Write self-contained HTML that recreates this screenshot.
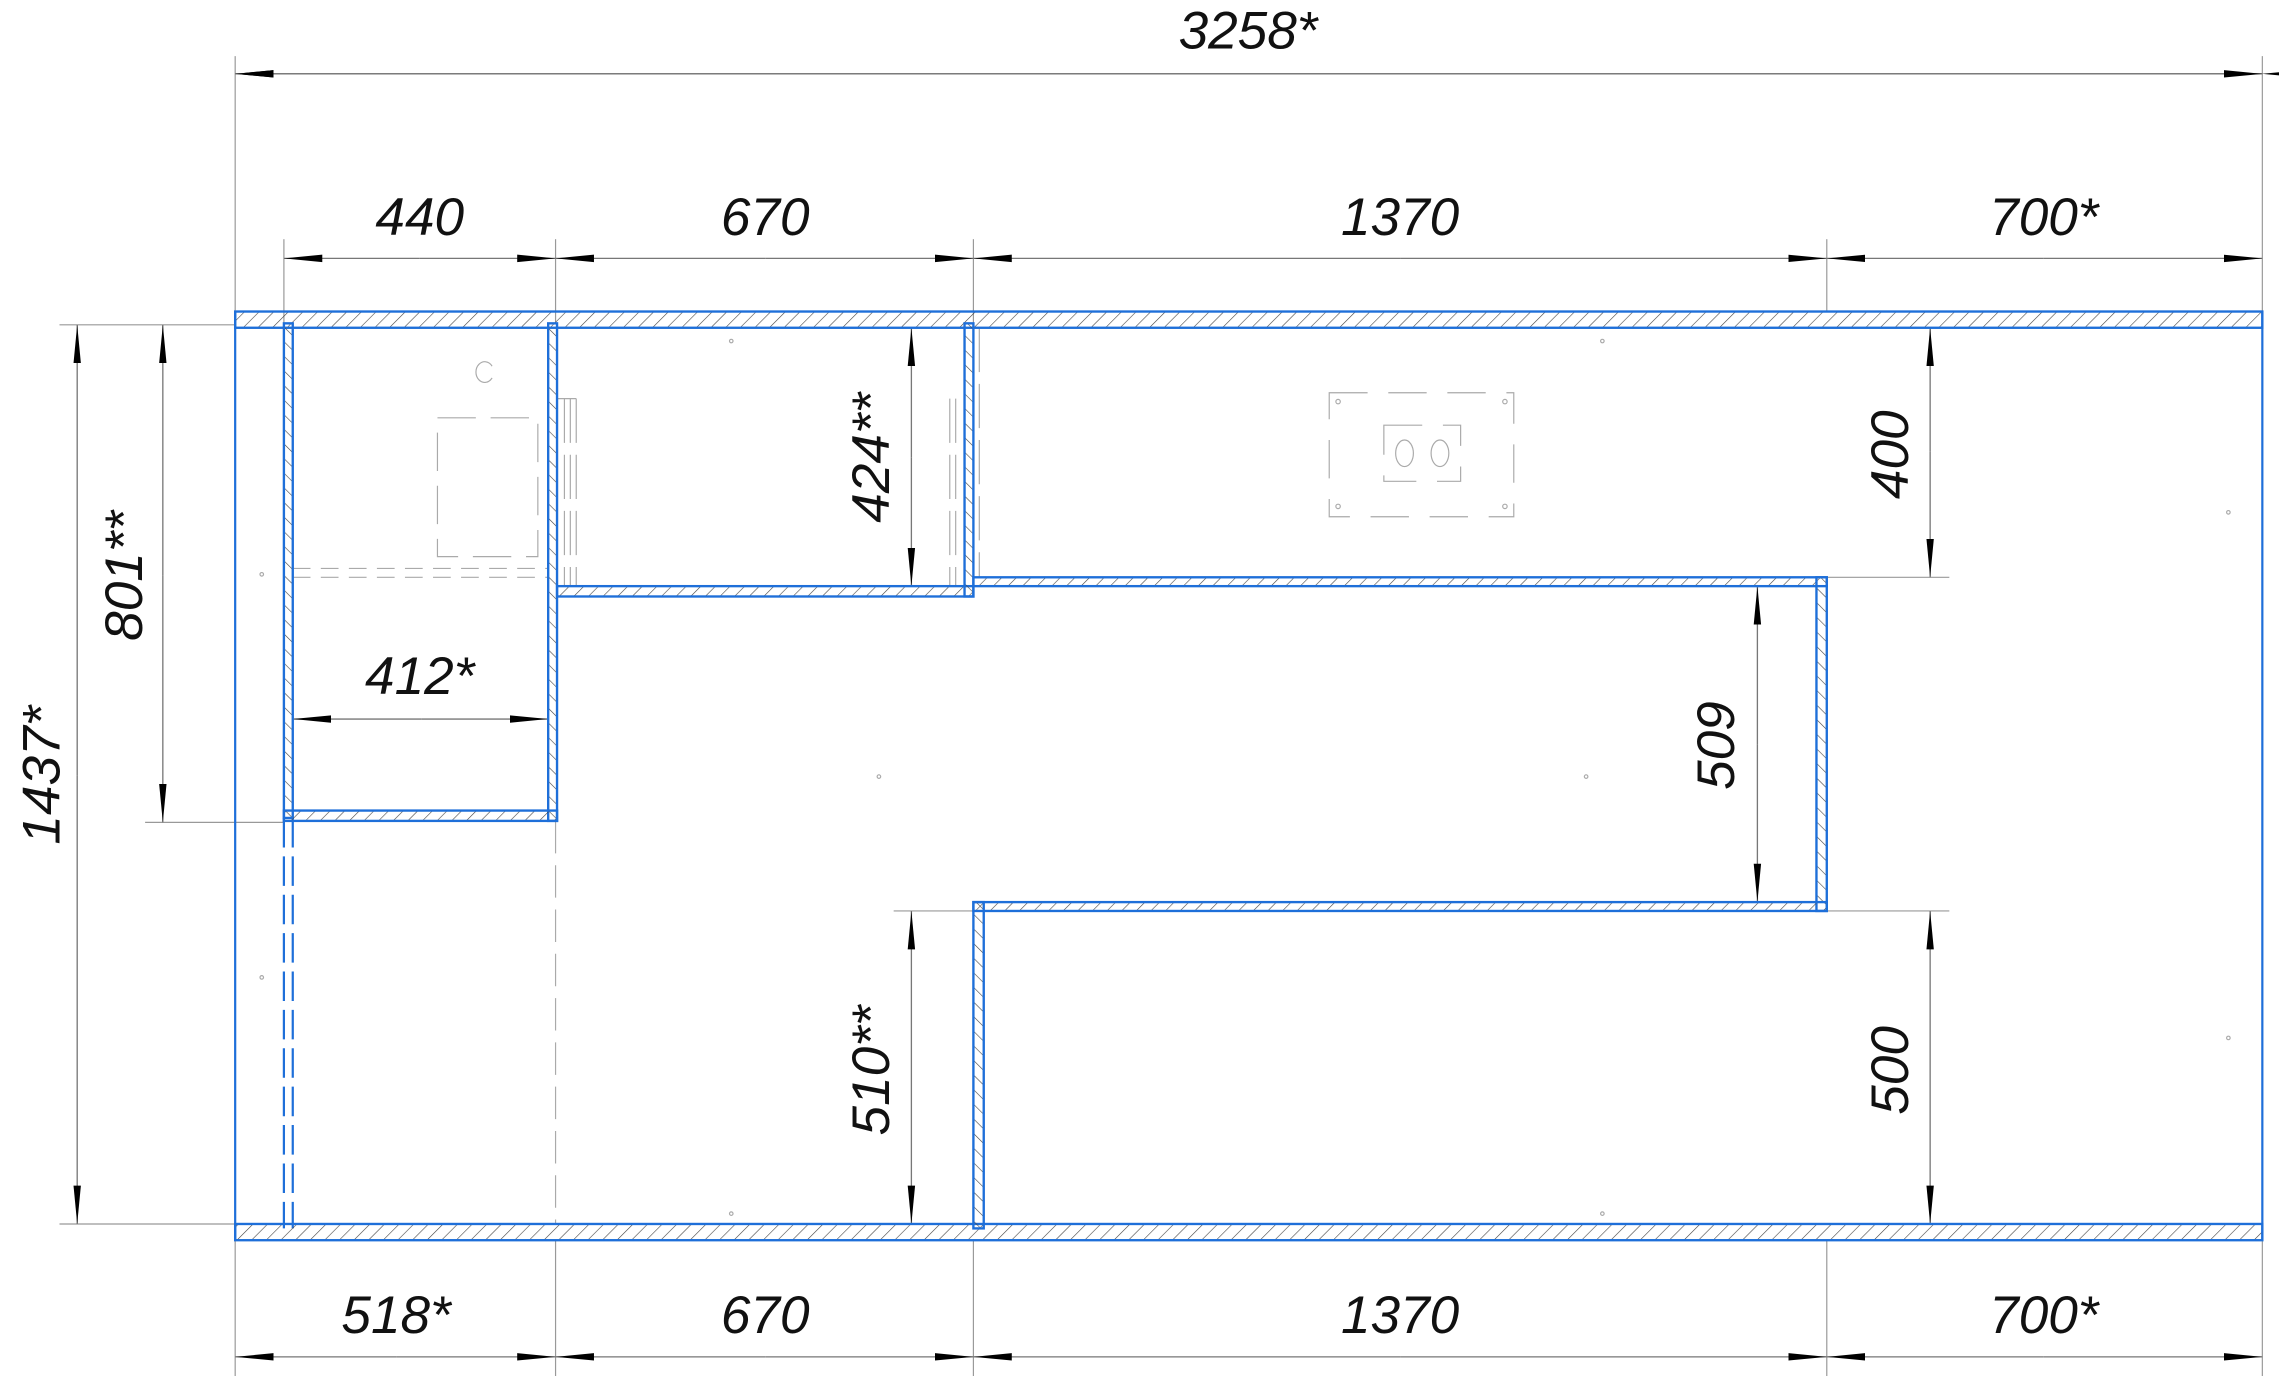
<!DOCTYPE html>
<html><head><meta charset="utf-8"><style>
html,body{margin:0;padding:0;background:#fff;}
svg{display:block}
text{font-family:"Liberation Sans",sans-serif;font-style:italic;font-size:36px;fill:#111;}
</style></head><body>
<svg width="2279" height="1379" viewBox="0 0 1543 934" xmlns="http://www.w3.org/2000/svg">
<defs>
<pattern id="h" patternUnits="userSpaceOnUse" width="7" height="7" patternTransform="rotate(45)">
<line x1="0" y1="0" x2="0" y2="7" stroke="#444" stroke-width="0.8"/>
</pattern>
<pattern id="hv" patternUnits="userSpaceOnUse" width="7" height="7" patternTransform="rotate(-45)">
<line x1="0" y1="0" x2="0" y2="7" stroke="#444" stroke-width="0.8"/>
</pattern>
<marker id="a" viewBox="0 0 26 8" refX="26" refY="4" markerWidth="26" markerHeight="8" markerUnits="userSpaceOnUse" orient="auto">
<path d="M0,1.5 L26,4 L0,6.5 Z" fill="#000"/>
</marker>
</defs>
<!-- extension lines -->
<g stroke="#999" stroke-width="0.8" fill="none">
<line x1="159" y1="38" x2="159" y2="211"/><line x1="1532" y1="38" x2="1532" y2="211"/>
<line x1="192" y1="162" x2="192" y2="219"/><line x1="376" y1="162" x2="376" y2="219"/>
<line x1="659" y1="162" x2="659" y2="219"/><line x1="1237" y1="162" x2="1237" y2="211"/>
<line x1="159" y1="840" x2="159" y2="932"/><line x1="376" y1="840" x2="376" y2="932"/>
<line x1="659" y1="840" x2="659" y2="932"/><line x1="1237" y1="840" x2="1237" y2="932"/><line x1="1532" y1="840" x2="1532" y2="932"/>
<line x1="40" y1="220" x2="159" y2="220"/><line x1="40" y1="829" x2="159" y2="829"/>
<line x1="98" y1="557" x2="192" y2="557"/>
<line x1="1237" y1="391" x2="1320" y2="391"/><line x1="1237" y1="617" x2="1320" y2="617"/>
<line x1="1180" y1="397" x2="1230" y2="397"/><line x1="1180" y1="611" x2="1230" y2="611"/>
<line x1="605" y1="617" x2="659" y2="617"/><line x1="605" y1="829" x2="659" y2="829"/>
<line x1="605" y1="222" x2="653" y2="222"/>
<line x1="1296" y1="829" x2="1320" y2="829"/>
</g>
<!-- dimension lines -->
<g stroke="#777" stroke-width="0.9" marker-start="url(#a)" marker-end="url(#a)">
<line x1="1532" y1="50" x2="159" y2="50" marker-start="url(#a)"/>
</g>
<g stroke="#777" stroke-width="0.9" marker-end="url(#a)">
<line x1="284" y1="175" x2="192" y2="175"/><line x1="284" y1="175" x2="376" y2="175"/>
<line x1="518" y1="175" x2="376" y2="175"/><line x1="518" y1="175" x2="659" y2="175"/>
<line x1="948" y1="175" x2="659" y2="175"/><line x1="948" y1="175" x2="1237" y2="175"/>
<line x1="1384" y1="175" x2="1237" y2="175"/><line x1="1384" y1="175" x2="1532" y2="175"/>
<line x1="268" y1="919" x2="159" y2="919"/><line x1="268" y1="919" x2="376" y2="919"/>
<line x1="518" y1="919" x2="376" y2="919"/><line x1="518" y1="919" x2="659" y2="919"/>
<line x1="948" y1="919" x2="659" y2="919"/><line x1="948" y1="919" x2="1237" y2="919"/>
<line x1="1384" y1="919" x2="1237" y2="919"/><line x1="1384" y1="919" x2="1532" y2="919"/>
<line x1="845" y1="50" x2="159" y2="50"/><line x1="845" y1="50" x2="1532" y2="50"/>
<line x1="52" y1="525" x2="52" y2="220"/><line x1="52" y1="525" x2="52" y2="829"/>
<line x1="110" y1="390" x2="110" y2="220"/><line x1="110" y1="390" x2="110" y2="557"/>
<line x1="285" y1="487" x2="198" y2="487"/><line x1="285" y1="487" x2="371" y2="487"/>
<line x1="617" y1="310" x2="617" y2="222"/><line x1="617" y1="310" x2="617" y2="397"/>
<line x1="1307" y1="306" x2="1307" y2="222"/><line x1="1307" y1="306" x2="1307" y2="391"/>
<line x1="1190" y1="504" x2="1190" y2="397"/><line x1="1190" y1="504" x2="1190" y2="611"/>
<line x1="617" y1="723" x2="617" y2="617"/><line x1="617" y1="723" x2="617" y2="829"/>
<line x1="1307" y1="723" x2="1307" y2="617"/><line x1="1307" y1="723" x2="1307" y2="829"/>
</g>
<!-- faint inner details -->
<g stroke="#aaa" stroke-width="0.8" fill="none">
<line x1="198" y1="385" x2="371" y2="385" stroke-dasharray="12,7"/>
<line x1="198" y1="391" x2="371" y2="391" stroke-dasharray="12,7"/>
<path d="M296,283 h68 v94 h-68 Z" stroke-dasharray="26,10"/>
<path d="M333,256 a6,7 0 1 1 0,-8"/>
<line x1="382" y1="270" x2="382" y2="397" stroke-dasharray="30,8"/>
<line x1="386" y1="270" x2="386" y2="397" stroke-dasharray="30,8"/>
<line x1="390" y1="270" x2="390" y2="397" stroke-dasharray="30,8"/>
<line x1="377" y1="270" x2="390" y2="270"/>
<line x1="643" y1="270" x2="643" y2="397" stroke-dasharray="30,8"/>
<line x1="647" y1="270" x2="647" y2="397" stroke-dasharray="30,8"/>
<line x1="663" y1="222" x2="663" y2="391" stroke-dasharray="30,8"/>
<line x1="376" y1="556" x2="376" y2="829" stroke-dasharray="22,8"/>
<path d="M900,266 h125 v84 h-125 Z" stroke-dasharray="26,14"/>
<path d="M937,288 h52 v38 h-52 Z" stroke-dasharray="26,14"/>
<ellipse cx="951" cy="307" rx="6" ry="9"/><ellipse cx="975" cy="307" rx="6" ry="9"/>
<circle cx="906" cy="272" r="1.5"/><circle cx="1019" cy="272" r="1.5"/>
<circle cx="906" cy="343" r="1.5"/><circle cx="1019" cy="343" r="1.5"/>
<circle cx="495" cy="231" r="1.2"/><circle cx="1085" cy="231" r="1.2"/>
<circle cx="177" cy="389" r="1.2"/><circle cx="177" cy="662" r="1.2"/>
<circle cx="595" cy="526" r="1.2"/><circle cx="1074" cy="526" r="1.2"/>
<circle cx="495" cy="822" r="1.2"/><circle cx="1085" cy="822" r="1.2"/>
<circle cx="1509" cy="347" r="1.2"/><circle cx="1509" cy="703" r="1.2"/>
</g>
<!-- outer lines -->
<g stroke="#1e6fd9" stroke-width="1.5" fill="none">
<line x1="159" y1="211" x2="159" y2="840"/><line x1="1532" y1="211" x2="1532" y2="840"/>
<line x1="192" y1="554" x2="192" y2="832" stroke-dasharray="20,6"/>
<line x1="198" y1="554" x2="198" y2="832" stroke-dasharray="20,6"/>
</g>
<!-- walls -->
<g stroke="#1e6fd9" stroke-width="1.6">
<rect x="159" y="211" width="1373" height="11" fill="url(#h)"/>
<rect x="159" y="829" width="1373" height="11" fill="url(#h)"/>
<rect x="192" y="219" width="6" height="335" fill="url(#hv)"/>
<rect x="371" y="219" width="6" height="337" fill="url(#hv)"/>
<rect x="192" y="549" width="185" height="7" fill="url(#h)"/>
<rect x="377" y="397" width="282" height="7" fill="url(#h)"/>
<rect x="653" y="219" width="6" height="185" fill="url(#hv)"/>
<rect x="659" y="391" width="578" height="6" fill="url(#h)"/>
<rect x="1230" y="391" width="7" height="226" fill="url(#hv)"/>
<rect x="659" y="611" width="578" height="6" fill="url(#h)"/>
<rect x="659" y="611" width="7" height="221" fill="url(#hv)"/>
</g>
<!-- labels -->
<g text-anchor="middle">
<text x="845" y="33">3258*</text>
<text x="284" y="159">440</text>
<text x="518" y="159">670</text>
<text x="948" y="159">1370</text>
<text x="1384" y="159">700*</text>
<text x="268" y="903">518*</text>
<text x="518" y="903">670</text>
<text x="948" y="903">1370</text>
<text x="1384" y="903">700*</text>
<text x="284" y="470">412*</text>
<text transform="translate(40,525) rotate(-90)">1437*</text>
<text transform="translate(96,390) rotate(-90)">801**</text>
<text transform="translate(602,310) rotate(-90)">424**</text>
<text transform="translate(1292,308) rotate(-90)">400</text>
<text transform="translate(1174,505) rotate(-90)">509</text>
<text transform="translate(602,725) rotate(-90)">510**</text>
<text transform="translate(1292,725) rotate(-90)">500</text>
</g>
</svg>
</body></html>
